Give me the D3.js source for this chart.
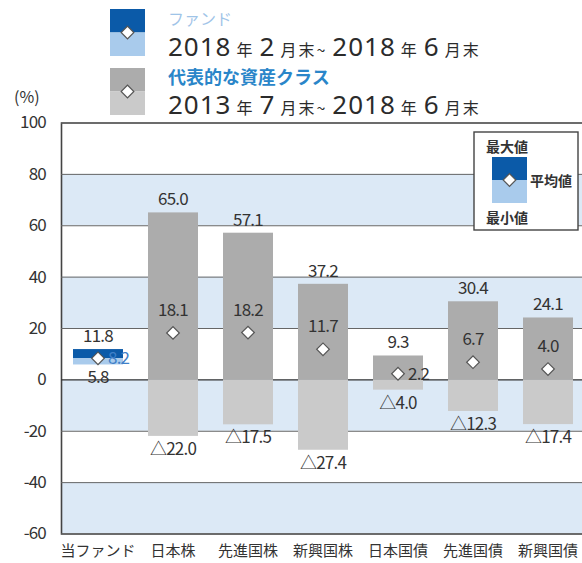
<!DOCTYPE html>
<html>
<head>
<meta charset="utf-8">
<script src="https://cdn.jsdelivr.net/npm/d3@7"></script>
<style>
  body { margin: 0; background: #fff; }
  text { font-family: "Noto Sans CJK JP", "Noto Sans", sans-serif; }
</style>
</head>
<body>
<div class="container"></div>
<script>
const WIDTH = 582,
    HEIGHT = 563,
    PLOT_LEFT = 61,
    PLOT_RIGHT = 600,
    PLOT_TOP = 122.5,
    PLOT_BOTTOM = 533.5;

// data
const categories = ['当ファンド', '日本株', '先進国株', '新興国株', '日本国債', '先進国債', '新興国債'];
const maxValues = [11.8, 65.0, 57.1, 37.2, 9.3, 30.4, 24.1];
const avgValues = [8.2, 18.1, 18.2, 11.7, 2.2, 6.7, 4.0];
const minValues = [5.8, -22.0, -17.5, -27.4, -4.0, -12.3, -17.4];
const yTicks = [-60, -40, -20, 0, 20, 40, 60, 80, 100];
const shadedBands = [[60, 80], [20, 40], [-20, 0], [-60, -40]];

const legendItems = [
    { name: 'ファンド', period: '2018年2月末~2018年6月末' },
    { name: '代表的な資産クラス', period: '2013年7月末~2018年6月末' }
];
const keyLabels = ['最大値', '平均値', '最小値'];

const COLORS = {
    fundHigh: '#0b5aa8',
    fundLow: '#a9cbec',
    assetHigh: '#acacac',
    assetLow: '#cacaca',
    band: '#dce9f6',
    text: '#333'
};

const translate = (x, y) => `translate(${x},${y})`;
const fmt = d3.format('.1f');
const minFmt = (v) => v < 0 ? '△' + fmt(-v) : fmt(v);

const x = d3.scaleBand()
    .domain(categories)
    .range([60.5, 585.5])
    .paddingInner(1 / 3)
    .paddingOuter(1 / 6);

const y = d3.scaleLinear()
    .domain([-60, 100])
    .range([PLOT_BOTTOM, PLOT_TOP]);

const rows = categories.map((c, i) => ({
    cat: c,
    max: maxValues[i],
    avg: avgValues[i],
    min: minValues[i],
    fund: i === 0
}));

const svg = d3.select('.container').append('svg')
    .attr('width', WIDTH)
    .attr('height', HEIGHT);

// shaded bands
svg.append('g').selectAll('rect')
    .data(shadedBands)
    .enter().append('rect')
    .attr('x', PLOT_LEFT)
    .attr('width', PLOT_RIGHT - PLOT_LEFT)
    .attr('y', (d) => y(d[1]))
    .attr('height', (d) => y(d[0]) - y(d[1]))
    .attr('fill', COLORS.band);

// y axis with gridlines
const yAxis = svg.append('g')
    .attr('transform', translate(PLOT_LEFT, 0))
    .call(d3.axisLeft(y)
        .tickValues(yTicks)
        .tickSize(-(PLOT_RIGHT - PLOT_LEFT))
        .tickPadding(15)
        .tickFormat((d) => String(d)));

yAxis.select('.domain').attr('stroke', '#444').attr('stroke-width', 1.6);
yAxis.selectAll('.tick line')
    .attr('stroke', (d) => d === 0 ? '#333' : '#666')
    .attr('stroke-width', (d) => d === 0 ? 1.4 : 1);
yAxis.selectAll('.tick text')
    .attr('fill', COLORS.text)
    .attr('font-size', 17)
    .attr('letter-spacing', -0.8);

svg.append('text')
    .attr('x', 14)
    .attr('y', 103)
    .attr('font-size', 16)
    .attr('fill', COLORS.text)
    .text('(%)');

// bars
const bars = svg.append('g');

bars.selectAll('.upper')
    .data(rows)
    .enter().append('rect')
    .attr('x', (d) => x(d.cat))
    .attr('width', x.bandwidth())
    .attr('y', (d) => y(d.max))
    .attr('height', (d) => d.fund ? y(d.avg) - y(d.max) : y(0) - y(d.max))
    .attr('fill', (d) => d.fund ? COLORS.fundHigh : COLORS.assetHigh);

bars.selectAll('.lower')
    .data(rows)
    .enter().append('rect')
    .attr('x', (d) => x(d.cat))
    .attr('width', x.bandwidth())
    .attr('y', (d) => d.fund ? y(d.avg) : y(0))
    .attr('height', (d) => d.fund ? y(d.min) - y(d.avg) : y(d.min) - y(0))
    .attr('fill', (d) => d.fund ? COLORS.fundLow : COLORS.assetLow);

const cx = (d) => x(d.cat) + x.bandwidth() / 2;
const diamond = d3.symbol().type(d3.symbolSquare).size(80);

svg.append('g').selectAll('path')
    .data(rows)
    .enter().append('path')
    .attr('d', diamond)
    .attr('transform', (d) => `${translate(cx(d), y(d.avg))} rotate(45)`)
    .attr('fill', '#fff')
    .attr('stroke', '#555')
    .attr('stroke-width', 1.2);

// value labels
const labels = svg.append('g')
    .attr('font-size', 17)
    .attr('letter-spacing', -0.8)
    .attr('fill', COLORS.text);

labels.selectAll('.max')
    .data(rows)
    .enter().append('text')
    .attr('x', cx)
    .attr('y', (d) => y(d.max) - 7)
    .attr('text-anchor', 'middle')
    .text((d) => fmt(d.max));

labels.selectAll('.min')
    .data(rows)
    .enter().append('text')
    .attr('x', cx)
    .attr('y', (d) => y(d.min) + 19)
    .attr('text-anchor', 'middle')
    .text((d) => minFmt(d.min));

// mean label sits beside the diamond when the bar above it is short
const besideMean = (d) => d.max - d.avg < 10;
labels.selectAll('.avg')
    .data(rows)
    .enter().append('text')
    .attr('x', (d) => besideMean(d) ? cx(d) + 10 : cx(d))
    .attr('y', (d) => besideMean(d) ? y(d.avg) + 6 : y(d.avg) - 17)
    .attr('text-anchor', (d) => besideMean(d) ? 'start' : 'middle')
    .attr('fill', (d) => d.fund ? '#3f80c8' : COLORS.text)
    .text((d) => fmt(d.avg));

// category axis
const xAxis = svg.append('g')
    .attr('transform', translate(0, PLOT_BOTTOM))
    .call(d3.axisBottom(x).tickSize(0).tickPadding(12));
xAxis.select('.domain').remove();
xAxis.selectAll('text')
    .attr('font-size', 15)
    .attr('fill', COLORS.text);

// top legend
const legend = svg.append('g');
legendItems.forEach((item, i) => {
    const top = i === 0 ? 9 : 68;
    legend.append('rect')
        .attr('x', 110).attr('y', top).attr('width', 35).attr('height', 23.5)
        .attr('fill', i === 0 ? COLORS.fundHigh : COLORS.assetHigh);
    legend.append('rect')
        .attr('x', 110).attr('y', top + 23.5).attr('width', 35).attr('height', 23.5)
        .attr('fill', i === 0 ? COLORS.fundLow : COLORS.assetLow);
    legend.append('path')
        .attr('d', diamond)
        .attr('transform', `${translate(127.5, top + 23.5)} rotate(45)`)
        .attr('fill', '#fff').attr('stroke', '#555').attr('stroke-width', 1.2);
    legend.append('text')
        .attr('x', 168).attr('y', i === 0 ? 25 : 84)
        .attr('font-size', i === 0 ? 16 : 18)
        .attr('font-weight', i === 0 ? 'normal' : 'bold')
        .attr('fill', i === 0 ? '#9fc4e8' : '#2a86c9')
        .text(item.name);
    const period = legend.append('text')
        .attr('x', 168).attr('y', i === 0 ? 56 : 114)
        .attr('fill', '#2b2b2b');
    item.period.split(/([0-9]+)/).filter((s) => s).forEach((s, k) => {
        const digits = /[0-9]/.test(s);
        period.append('tspan')
            .attr('dx', k === 0 ? 0 : 5)
            .attr('font-family', digits ? '"Noto Sans", "DejaVu Sans", sans-serif' : null)
            .attr('font-size', digits ? 26 : 16)
            .attr('letter-spacing', digits ? 1 : 2)
            .text(s);
    });
});

// key box
const key = svg.append('g').attr('transform', translate(474, 132));
key.append('rect')
    .attr('width', 104).attr('height', 98)
    .attr('fill', '#fff').attr('stroke', '#444').attr('stroke-width', 1.4);
key.append('rect')
    .attr('x', 18).attr('y', 25).attr('width', 35).attr('height', 23)
    .attr('fill', COLORS.fundHigh);
key.append('rect')
    .attr('x', 18).attr('y', 48).attr('width', 35).attr('height', 23)
    .attr('fill', COLORS.fundLow);
key.append('path')
    .attr('d', diamond)
    .attr('transform', `${translate(35.5, 48)} rotate(45)`)
    .attr('fill', '#fff').attr('stroke', '#555').attr('stroke-width', 1.2);
key.selectAll('.lbl')
    .data(keyLabels)
    .enter().append('text')
    .attr('x', (d, i) => i === 1 ? 56 : 12)
    .attr('y', (d, i) => [20, 54, 91][i])
    .attr('font-size', 14)
    .attr('font-weight', 'bold')
    .attr('fill', COLORS.text)
    .text((d) => d);
</script>
</body>
</html>
